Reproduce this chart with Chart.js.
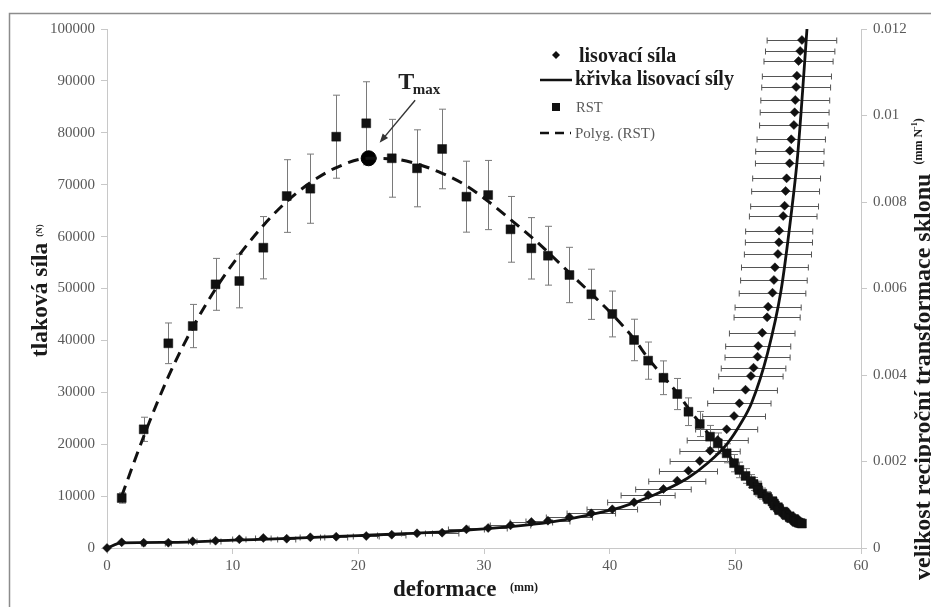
<!DOCTYPE html>
<html>
<head>
<meta charset="utf-8">
<script src="https://cdn.jsdelivr.net/npm/chart.js@4.4.1/dist/chart.umd.min.js"></script>
<style>
  html, body { margin: 0; padding: 0; background: #fff; }
</style>
</head>
<body>
<canvas id="graf" width="931" height="607"></canvas>
<script>
// deformace vzorku (mm) - spolecna osa x pro silu i RST
var deformace = [0, 1.17, 2.92, 4.88, 6.82, 8.64, 10.53, 12.44, 14.3, 16.18, 18.24, 20.63, 22.66, 24.67, 26.67, 28.6, 30.33, 32.11, 33.77, 35.09, 36.8, 38.54, 40.21, 41.94, 43.06, 44.28, 45.38, 46.27, 47.17, 47.99, 48.6, 49.31, 49.9, 50.32, 50.81, 51.24, 51.45, 51.77, 51.82, 52.14, 52.53, 52.61, 52.96, 53.07, 53.15, 53.39, 53.47, 53.49, 53.81, 53.92, 54.0, 54.08, 54.32, 54.34, 54.45, 54.66, 54.72, 54.77, 54.84, 54.9, 55.03, 55.16, 55.3];
// lisovaci sila (N)
var lisovaciSila = [0, 1100, 1020, 1020, 1290, 1400, 1680, 1930, 1790, 2060, 2180, 2310, 2560, 2830, 2950, 3600, 3850, 4370, 5010, 5260, 5920, 6690, 7460, 8810, 10210, 11370, 12970, 14890, 16760, 18750, 20810, 22870, 25430, 27880, 30500, 33140, 34740, 36860, 38920, 41480, 44450, 46490, 49190, 51640, 54080, 56650, 58900, 61140, 63970, 65950, 68790, 71230, 74120, 76550, 78750, 81500, 83950, 86320, 88820, 91000, 93830, 95760, 97880];
// smerodatna odchylka deformace (mm)
var sirkaChyby = [0, 0.06, 0.15, 0.24, 0.34, 0.43, 0.53, 0.62, 0.72, 0.81, 0.91, 1.03, 1.13, 1.23, 1.33, 1.43, 1.52, 1.61, 1.69, 1.75, 1.84, 1.93, 2.01, 2.10, 2.15, 2.21, 2.27, 2.31, 2.36, 2.40, 2.43, 2.47, 2.50, 2.52, 2.54, 2.56, 2.57, 2.59, 2.59, 2.61, 2.63, 2.63, 2.65, 2.65, 2.66, 2.67, 2.67, 2.67, 2.69, 2.70, 2.70, 2.70, 2.72, 2.72, 2.72, 2.73, 2.74, 2.74, 2.74, 2.75, 2.75, 2.76, 2.77];
// RST (mm N^-1)
var rst = [null, 0.001156, 0.002744, 0.004733, 0.005132, 0.006096, 0.006173, 0.006943, 0.008138, 0.008308, 0.009510, 0.009820, 0.009011, 0.008779, 0.009226, 0.008123, 0.008161, 0.007368, 0.006929, 0.006758, 0.006312, 0.005866, 0.005411, 0.004810, 0.004332, 0.003936, 0.003560, 0.003151, 0.002867, 0.002574, 0.002420, 0.002190, 0.001962, 0.001805, 0.001666, 0.001547, 0.001481, 0.001404, 0.001332, 0.001256, 0.001182, 0.001132, 0.001076, 0.001027, 0.000983, 0.000942, 0.000908, 0.000875, 0.000841, 0.000817, 0.000785, 0.000760, 0.000733, 0.000710, 0.000691, 0.000671, 0.000652, 0.000635, 0.000618, 0.000604, 0.000587, 0.000576, 0.000565];
var rstChyba = [null, 0.00012, 0.00028, 0.00047, 0.00050, 0.00060, 0.00062, 0.00072, 0.00084, 0.00080, 0.00096, 0.00096, 0.00090, 0.00089, 0.00092, 0.00082, 0.00080, 0.00076, 0.00071, 0.00068, 0.00064, 0.00058, 0.00053,
  0.00048, 0.00043, 0.00039, 0.00036, 0.00032, 0.00029, 0.00026, 0.00024, 0.00022, 0.00020, 0.00018, 0.00017, 0.00015, 0.00015, 0.00014, 0.00013, 0.00013, 0.00012, 0.00011, 0.00011, 0.00010, 0.00010, 0.00009, 0.00009, 0.00009, 0.00008, 0.00008, 0.00008, 0.00008, 0.00007, 0.00007, 0.00007, 0.00007, 0.00006, 0.00006, 0.00006, 0.00006, 0.00006, 0.00006, 0.00006];

// krivka lisovaci sily
var krivkaX = [0, 1.17, 5, 10, 15, 20, 25, 30, 35, 38, 40.88, 43.53, 46.19, 47.78, 49.38, 50.44, 51.3, 52.56, 53.63, 54.42, 54.96, 55.35, 55.7];
var krivkaY = [0, 1000, 1100, 1500, 1900, 2400, 2900, 3700, 4900, 6200, 7840, 10210, 13430, 16320, 20170, 24030, 28000, 37500, 49500, 63830, 75720, 87920, 100000];

// polynomicky trend RST
var polygX = [1.17, 2.92, 4.88, 6.83, 8.66, 10.54, 12.46, 14.32, 16.18, 18.25, 20.8, 22.68, 24.67, 26.67, 28.6, 30.33, 32.11, 33.78, 35.09, 36.81, 38.54, 40.21, 41.94, 43.08, 44.28, 45.44, 46.27, 47.17, 48.0, 49.32, 50.32, 51.24, 52.14, 53.07, 54.0, 54.66, 55.3];
var polygY = [0.00120, 0.00258, 0.00396, 0.00510, 0.00600, 0.00678, 0.007464, 0.008016, 0.008448, 0.008796, 0.009011, 0.009000, 0.008880, 0.008664, 0.008376, 0.008016, 0.007596, 0.007188, 0.006840, 0.006360, 0.005880, 0.005400, 0.004836, 0.004380, 0.003960, 0.003564, 0.003228, 0.002892, 0.002592, 0.002196, 0.001812, 0.001524, 0.001272, 0.001020, 0.000780, 0.000660, 0.000552];

// maximum RST
var tmaxX = 20.82;
var tmaxY = 0.009011;

var serif = '"Liberation Serif", "Times New Roman", serif';
var cerna = '#111';

function body(xs, ys) {
  var out = [];
  for (var i = 0; i < xs.length; i++) {
    if (ys[i] !== null) out.push({ x: xs[i], y: ys[i] });
  }
  return out;
}

var chybyPlugin = {
  id: 'chyby',
  beforeDatasetsDraw: function(chart) {
    var ctx = chart.ctx;
    var sx = chart.scales.x, sy = chart.scales.y, sy1 = chart.scales.y1;
    ctx.save();
    ctx.lineWidth = 1;
    // vodorovne chyby u lisovaci sily
    ctx.strokeStyle = '#555';
    ctx.beginPath();
    for (var i = 0; i < deformace.length; i++) {
      if (!sirkaChyby[i]) continue;
      var y = Math.round(sy.getPixelForValue(lisovaciSila[i])) + 0.5;
      var x1 = sx.getPixelForValue(deformace[i] - sirkaChyby[i]);
      var x2 = sx.getPixelForValue(deformace[i] + sirkaChyby[i]);
      ctx.moveTo(x1, y); ctx.lineTo(x2, y);
      ctx.moveTo(x1, y - 3); ctx.lineTo(x1, y + 3);
      ctx.moveTo(x2, y - 3); ctx.lineTo(x2, y + 3);
    }
    ctx.stroke();
    // svisle chyby u RST
    ctx.strokeStyle = '#7a7a7a';
    ctx.beginPath();
    for (var j = 0; j < deformace.length; j++) {
      if (rst[j] === null) continue;
      var x = Math.round(sx.getPixelForValue(deformace[j])) + 0.5;
      var y1 = sy1.getPixelForValue(rst[j] + rstChyba[j]);
      var y2 = sy1.getPixelForValue(rst[j] - rstChyba[j]);
      ctx.moveTo(x, y1); ctx.lineTo(x, y2);
      ctx.moveTo(x - 3.5, y1); ctx.lineTo(x + 3.5, y1);
      ctx.moveTo(x - 3.5, y2); ctx.lineTo(x + 3.5, y2);
    }
    ctx.stroke();
    ctx.restore();
  }
};

var popiskyPlugin = {
  id: 'popisky',
  beforeDraw: function(chart) {
    var ctx = chart.ctx;
    ctx.save();
    ctx.fillStyle = '#fff';
    ctx.fillRect(0, 0, chart.width, chart.height);
    ctx.strokeStyle = '#8c8c8c';
    ctx.lineWidth = 1.5;
    ctx.strokeRect(9.5, 13.5, 960, 640);
    ctx.restore();
  },
  afterDraw: function(chart) {
    var ctx = chart.ctx;
    ctx.save();
    ctx.fillStyle = '#1a1a1a';
    ctx.textBaseline = 'alphabetic';
    ctx.textAlign = 'left';

    // nazev osy x
    ctx.font = 'bold 23px ' + serif;
    ctx.fillText('deformace', 393, 596);
    ctx.font = 'bold 12px ' + serif;
    ctx.fillText('(mm)', 510, 591);

    // nazev leve osy
    ctx.save();
    ctx.translate(47, 357);
    ctx.rotate(-Math.PI / 2);
    ctx.font = 'bold 23.5px ' + serif;
    ctx.fillText('tlaková síla', 0, 0);
    var w = ctx.measureText('tlaková síla').width;
    ctx.font = 'bold 9px ' + serif;
    ctx.fillText('(N)', w + 6, -5);
    ctx.restore();

    // nazev prave osy
    ctx.save();
    ctx.translate(930, 580);
    ctx.rotate(-Math.PI / 2);
    ctx.font = 'bold 24px ' + serif;
    var t = 'velikost reciproční transformace sklonu';
    ctx.fillText(t, 0, 0);
    var p = ctx.measureText(t).width + 9;
    ctx.font = 'bold 12px ' + serif;
    ctx.fillText('(mm N', p, -8);
    p += ctx.measureText('(mm N').width;
    ctx.font = 'bold 8px ' + serif;
    ctx.fillText('-1', p, -13);
    p += ctx.measureText('-1').width;
    ctx.font = 'bold 12px ' + serif;
    ctx.fillText(')', p, -8);
    ctx.restore();

    // legenda
    ctx.fillStyle = cerna;
    ctx.beginPath();
    ctx.moveTo(556, 51); ctx.lineTo(560, 55); ctx.lineTo(556, 59); ctx.lineTo(552, 55);
    ctx.closePath();
    ctx.fill();
    ctx.strokeStyle = cerna;
    ctx.lineWidth = 2.5;
    ctx.beginPath();
    ctx.moveTo(540, 80); ctx.lineTo(572, 80);
    ctx.stroke();
    ctx.fillRect(552, 103, 8, 8);
    ctx.setLineDash([9, 6]);
    ctx.beginPath();
    ctx.moveTo(540, 133); ctx.lineTo(571, 133);
    ctx.stroke();
    ctx.setLineDash([]);

    ctx.fillStyle = '#1a1a1a';
    ctx.font = 'bold 20px ' + serif;
    ctx.fillText('lisovací síla', 579, 61.5);
    ctx.fillText('křivka lisovací síly', 575, 85);
    ctx.fillStyle = '#595959';
    ctx.font = '14.5px ' + serif;
    ctx.fillText('RST', 576, 111.5);
    ctx.font = '15px ' + serif;
    ctx.fillText('Polyg. (RST)', 575, 137.5);

    // oznaceni maxima
    var px = chart.scales.x.getPixelForValue(tmaxX);
    var py = chart.scales.y1.getPixelForValue(tmaxY);
    ctx.fillStyle = '#222';
    ctx.font = 'bold 24px ' + serif;
    ctx.fillText('T', px + 29.5, py - 69.5);
    ctx.font = 'bold 15px ' + serif;
    ctx.fillText('max', px + 44, py - 64.5);

    var ax = px + 46.5, ay = py - 58;
    var bx = px + 11, by = py - 15.5;
    var ang = Math.atan2(by - ay, bx - ax);
    ctx.strokeStyle = '#333';
    ctx.fillStyle = '#333';
    ctx.lineWidth = 1.4;
    ctx.beginPath();
    ctx.moveTo(ax, ay);
    ctx.lineTo(bx - 6 * Math.cos(ang), by - 6 * Math.sin(ang));
    ctx.stroke();
    ctx.beginPath();
    ctx.moveTo(bx, by);
    ctx.lineTo(bx - 9 * Math.cos(ang) + 3.5 * Math.sin(ang), by - 9 * Math.sin(ang) - 3.5 * Math.cos(ang));
    ctx.lineTo(bx - 9 * Math.cos(ang) - 3.5 * Math.sin(ang), by - 9 * Math.sin(ang) + 3.5 * Math.cos(ang));
    ctx.closePath();
    ctx.fill();

    ctx.restore();
  }
};

var osaBarva = '#c8c8c8';
var tickFont = { family: serif, size: 15 };

var graf = new Chart(document.getElementById('graf'), {
  type: 'scatter',
  data: {
    datasets: [{
      label: 'lisovací síla',
      data: body(deformace, lisovaciSila),
      yAxisID: 'y',
      pointStyle: 'rectRot',
      pointRadius: 4.5,
      pointBackgroundColor: cerna,
      pointBorderColor: cerna,
      pointBorderWidth: 0.5,
      clip: false
    }, {
      label: 'křivka lisovací síly',
      data: body(krivkaX, krivkaY),
      yAxisID: 'y',
      showLine: true,
      pointRadius: 0,
      borderColor: cerna,
      borderWidth: 2.8,
      cubicInterpolationMode: 'monotone'
    }, {
      label: 'RST',
      data: body(deformace, rst),
      yAxisID: 'y1',
      pointStyle: 'rect',
      pointRadius: 6.3,
      pointBackgroundColor: cerna,
      pointBorderColor: cerna,
      pointBorderWidth: 0.5,
      clip: false
    }, {
      label: 'Polyg. (RST)',
      data: body(polygX, polygY),
      yAxisID: 'y1',
      showLine: true,
      pointRadius: 0,
      borderColor: cerna,
      borderWidth: 3,
      borderDash: [11, 7],
      cubicInterpolationMode: 'monotone'
    }, {
      label: 'Tmax',
      data: [{ x: tmaxX, y: tmaxY }],
      yAxisID: 'y1',
      pointStyle: 'circle',
      pointRadius: 7.5,
      pointBackgroundColor: '#000',
      pointBorderColor: '#000',
      clip: false
    }]
  },
  options: {
    responsive: false,
    animation: false,
    events: [],
    layout: { padding: { top: 29, left: 0, right: 0, bottom: 0 } },
    plugins: {
      legend: { display: false },
      tooltip: { enabled: false }
    },
    scales: {
      x: {
        type: 'linear',
        min: 0,
        max: 60,
        ticks: { stepSize: 10, color: '#595959', font: tickFont, padding: 3 },
        grid: { drawOnChartArea: false, drawTicks: true, tickLength: 6, color: osaBarva },
        border: { color: osaBarva },
        afterFit: function(s) { s.height = 59; }
      },
      y: {
        position: 'left',
        min: 0,
        max: 100000,
        ticks: {
          stepSize: 10000,
          color: '#595959',
          font: tickFont,
          padding: 6,
          callback: function(v) { return String(v); }
        },
        grid: { drawOnChartArea: false, drawTicks: true, tickLength: 6, color: osaBarva },
        border: { color: osaBarva },
        afterFit: function(s) { s.width = 107; }
      },
      y1: {
        position: 'right',
        min: 0,
        max: 0.012,
        ticks: {
          stepSize: 0.002,
          color: '#595959',
          font: tickFont,
          padding: 6,
          callback: function(v) { return String(+v.toFixed(3)); }
        },
        grid: { drawOnChartArea: false, drawTicks: true, tickLength: 6, color: osaBarva },
        border: { color: osaBarva },
        afterFit: function(s) { s.width = 70; }
      }
    }
  },
  plugins: [chybyPlugin, popiskyPlugin]
});
</script>
</body>
</html>
